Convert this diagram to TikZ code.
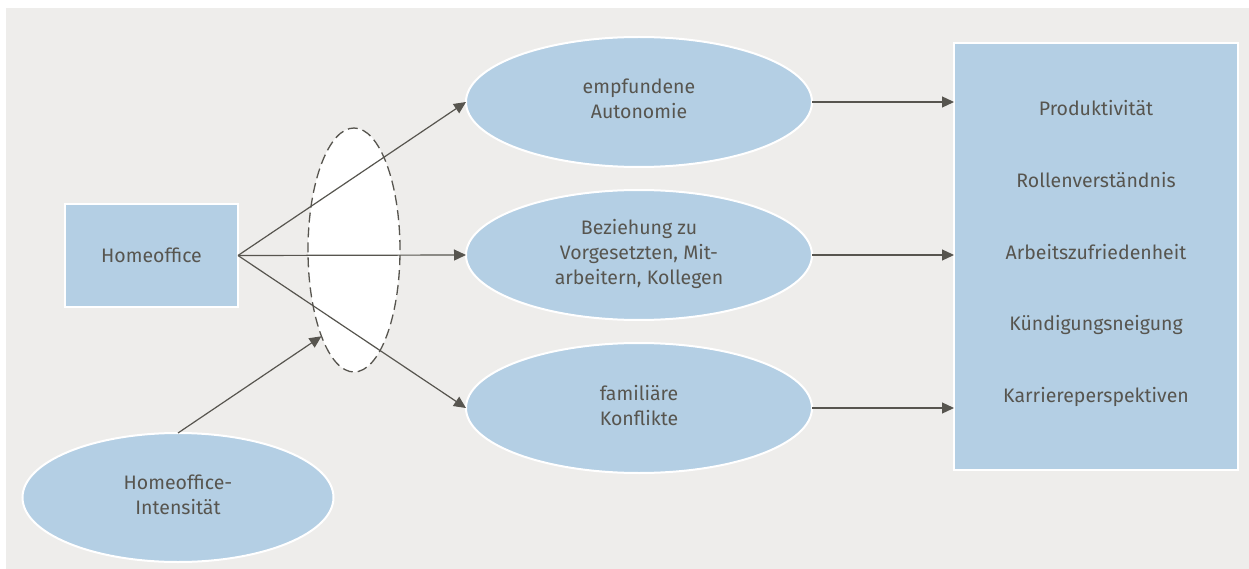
\documentclass[tikz,border=0pt]{standalone}
\usepackage{fontspec}
\setmainfont{Fira Sans}
\usetikzlibrary{positioning, arrows.meta, shapes.geometric}
\definecolor{bggray}{HTML}{EEEDEB}
\definecolor{lblue}{HTML}{B4CFE4}
\definecolor{dgray}{HTML}{57554F}

\begin{document}
\begin{tikzpicture}[x=1pt, y=-1pt,
    every node/.style={text=dgray, font=\fontsize{19.5}{25}\selectfont, align=center, inner sep=0pt, outer sep=0pt},
    bluebox/.style={draw=white, line width=2pt, fill=lblue, rectangle},
    blueoval/.style={draw=white, line width=2pt, fill=lblue, ellipse, text depth=6pt},
    dashoval/.style={draw=dgray, line width=1.3pt, dash pattern=on 10pt off 5pt, fill=white, ellipse, minimum width=92pt, minimum height=244pt},
    pfeil/.style={draw=dgray, line width=1.2pt, -{Triangle[length=12pt, width=11pt]}}]
                    \useasboundingbox (0,0) rectangle (1249,569);
                    \fill[bggray] (6,8) rectangle (1249,569);

                    \node[bluebox, minimum width=173pt, minimum height=103pt] (1) at (151.5,255.5) {Homeoffice};
                    \node[blueoval, minimum width=311pt, minimum height=129pt] (2) at (178,497.5) {Homeoffice-\\Intensität};
                    \node[dashoval] (3) at (354,250) {};

                    \node[blueoval, minimum width=346pt, minimum height=130pt] (11) at (639,102) {empfundene\\Autonomie};
                    \node[blueoval, minimum width=346pt, minimum height=130pt] (12) [below=23pt of 11] {Beziehung zu\\Vorgesetzten, Mit-\\arbeitern, Kollegen};
                    \node[blueoval, minimum width=346pt, minimum height=130pt] (13) [below=23pt of 12] {familiäre\\Konflikte};

                    \node[bluebox, minimum width=284pt, minimum height=427pt] (20) at (1096,256.5) {};
                    \foreach \txt [count=\i] in {Produktivität, Rollenverständnis, Arbeitszufriedenheit, Kündigungsneigung, Karriereperspektiven}
                        \node (2\i) at (1096,{35.75+72.25*\i}) {\txt};

                    \draw[pfeil] (1.east) -- (11.west);
                    \draw[pfeil] (1.east) -- (12.west);
                    \draw[pfeil] (1.east) -- (13.west);
                    \draw[pfeil] (2.north) -- (3.south west);

                    \foreach \e in {11,12,13}
                        \draw[pfeil] (\e.east) -- (\e.east -| 20.west);
                \end{tikzpicture}
\end{document}
